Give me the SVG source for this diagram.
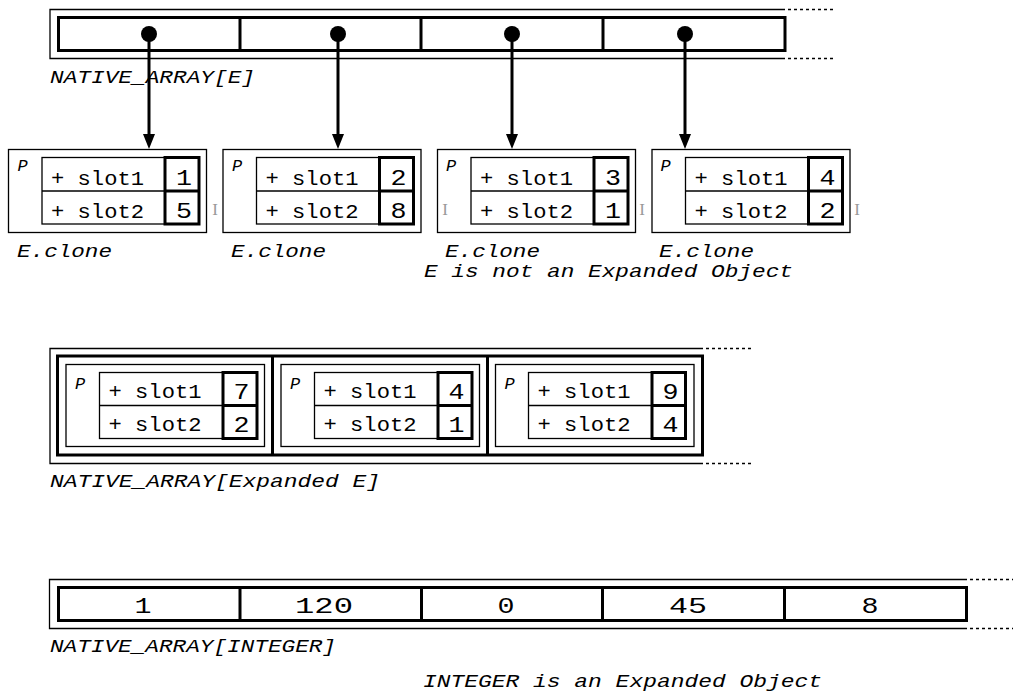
<svg xmlns="http://www.w3.org/2000/svg" width="1013" height="693" viewBox="0 0 1013 693">
<style>
.thin{fill:none;stroke:#000;stroke-width:1.3}
.thick{fill:none;stroke:#000;stroke-width:3}
.dot{fill:none;stroke:#000;stroke-width:1.3;stroke-dasharray:3 3}
.lbl{font-family:"Liberation Mono",monospace;font-style:italic;font-size:19px;fill:#000}
.slot{font-family:"Liberation Mono",monospace;font-size:20px;fill:#000}
.val{font-family:"Liberation Mono",monospace;font-size:22px;fill:#000;text-anchor:middle}
.p{font-family:"Liberation Mono",monospace;font-style:italic;font-size:17px;fill:#000}
.mark{font-family:"Liberation Serif",serif;font-size:17px;fill:#999;text-anchor:middle}
.conn{stroke:#000;stroke-width:3;fill:none}
</style>
<defs>
<marker id="arrow" viewBox="0 0 15 12" refX="0" refY="6" markerWidth="15" markerHeight="12" markerUnits="userSpaceOnUse" orient="auto">
<path d="M0,0 L15,6 L0,12 z" fill="#000"/>
</marker>
<marker id="ball" viewBox="-8 -8 16 16" refX="0" refY="0" markerWidth="16" markerHeight="16" markerUnits="userSpaceOnUse">
<circle r="8" fill="#000"/>
</marker>
</defs>
<rect width="1013" height="693" fill="#fff"/>

<!-- Top array NATIVE_ARRAY[E] -->
<g id="array-e">
<path class="thin" d="M785,9.5 H50 V58.5 H785"/>
<path class="dot" d="M788,9.5 H836 M788,58.5 H836"/>
<rect class="thick" x="58.5" y="17.5" width="726.5" height="33"/>
<path class="thick" d="M240,17.5 V50.5 M421,17.5 V50.5 M603,17.5 V50.5"/>
<text class="lbl" x="50" y="83" textLength="205" lengthAdjust="spacingAndGlyphs">NATIVE_ARRAY[E]</text>
</g>

<!-- Clone boxes -->
<g id="clone-1">
<rect class="thin" x="8.5" y="149.5" width="198" height="83"/>
<text class="p" x="17.5" y="171">P</text>
<rect class="thin" x="42" y="157.5" width="157" height="66.5"/>
<path class="thin" d="M42,191 H199"/>
<rect class="thick" x="165" y="157.5" width="34" height="66.5"/>
<path class="thick" d="M165,191 H199"/>
<text class="slot" x="51" y="184.5" textLength="93" lengthAdjust="spacingAndGlyphs">+ slot1</text>
<text class="slot" x="51" y="217.5" textLength="93" lengthAdjust="spacingAndGlyphs">+ slot2</text>
<text class="val" x="184" y="185" textLength="16" lengthAdjust="spacingAndGlyphs">1</text>
<text class="val" x="184" y="218" textLength="16" lengthAdjust="spacingAndGlyphs">5</text>
<text class="lbl" x="17" y="257" textLength="95" lengthAdjust="spacingAndGlyphs">E.clone</text>
</g>

<g id="clone-2">
<rect class="thin" x="223" y="149.5" width="198" height="83"/>
<text class="p" x="232" y="171">P</text>
<rect class="thin" x="256.5" y="157.5" width="157" height="66.5"/>
<path class="thin" d="M256.5,191 H413.5"/>
<rect class="thick" x="379.5" y="157.5" width="34" height="66.5"/>
<path class="thick" d="M379.5,191 H413.5"/>
<text class="slot" x="265.5" y="184.5" textLength="93" lengthAdjust="spacingAndGlyphs">+ slot1</text>
<text class="slot" x="265.5" y="217.5" textLength="93" lengthAdjust="spacingAndGlyphs">+ slot2</text>
<text class="val" x="398.5" y="185" textLength="16" lengthAdjust="spacingAndGlyphs">2</text>
<text class="val" x="398.5" y="218" textLength="16" lengthAdjust="spacingAndGlyphs">8</text>
<text class="lbl" x="231" y="257" textLength="95" lengthAdjust="spacingAndGlyphs">E.clone</text>
</g>

<g id="clone-3">
<rect class="thin" x="437.5" y="149.5" width="198" height="83"/>
<text class="p" x="446" y="171">P</text>
<rect class="thin" x="471" y="157.5" width="157" height="66.5"/>
<path class="thin" d="M471,191 H628"/>
<rect class="thick" x="594" y="157.5" width="34" height="66.5"/>
<path class="thick" d="M594,191 H628"/>
<text class="slot" x="480" y="184.5" textLength="93" lengthAdjust="spacingAndGlyphs">+ slot1</text>
<text class="slot" x="480" y="217.5" textLength="93" lengthAdjust="spacingAndGlyphs">+ slot2</text>
<text class="val" x="613" y="185" textLength="16" lengthAdjust="spacingAndGlyphs">3</text>
<text class="val" x="613" y="218" textLength="16" lengthAdjust="spacingAndGlyphs">1</text>
<text class="lbl" x="445" y="257" textLength="95" lengthAdjust="spacingAndGlyphs">E.clone</text>
</g>

<g id="clone-4">
<rect class="thin" x="652" y="149.5" width="198" height="83"/>
<text class="p" x="660.5" y="171">P</text>
<rect class="thin" x="685.5" y="157.5" width="157" height="66.5"/>
<path class="thin" d="M685.5,191 H842.5"/>
<rect class="thick" x="808.5" y="157.5" width="34" height="66.5"/>
<path class="thick" d="M808.5,191 H842.5"/>
<text class="slot" x="694.5" y="184.5" textLength="93" lengthAdjust="spacingAndGlyphs">+ slot1</text>
<text class="slot" x="694.5" y="217.5" textLength="93" lengthAdjust="spacingAndGlyphs">+ slot2</text>
<text class="val" x="827.5" y="185" textLength="16" lengthAdjust="spacingAndGlyphs">4</text>
<text class="val" x="827.5" y="218" textLength="16" lengthAdjust="spacingAndGlyphs">2</text>
<text class="lbl" x="659" y="257" textLength="95" lengthAdjust="spacingAndGlyphs">E.clone</text>
</g>

<g id="marks">
<text class="mark" x="215" y="215">I</text>
<text class="mark" x="445" y="215">I</text>
<text class="mark" x="642" y="215">I</text>
<text class="mark" x="857" y="215">I</text>
</g>

<text id="note-1" class="lbl" x="424" y="277" textLength="369" lengthAdjust="spacingAndGlyphs">E is not an Expanded Object</text>

<!-- Connectors -->
<g id="connectors">
<line class="conn" x1="149" y1="34" x2="149" y2="134" marker-start="url(#ball)" marker-end="url(#arrow)"/>
<line class="conn" x1="338" y1="34" x2="338" y2="134" marker-start="url(#ball)" marker-end="url(#arrow)"/>
<line class="conn" x1="512" y1="34" x2="512" y2="134" marker-start="url(#ball)" marker-end="url(#arrow)"/>
<line class="conn" x1="685" y1="34" x2="685" y2="134" marker-start="url(#ball)" marker-end="url(#arrow)"/>
</g>

<!-- Expanded array -->
<g id="array-expanded">
<path class="thin" d="M703,348.5 H50 V463.5 H703"/>
<path class="dot" d="M706,348.5 H752 M706,463.5 H752"/>
<rect class="thick" x="57.5" y="356" width="645" height="99"/>
<path class="thick" d="M272.5,356 V455 M487.5,356 V455"/>
<text class="lbl" x="50" y="487" textLength="330" lengthAdjust="spacingAndGlyphs">NATIVE_ARRAY[Expanded E]</text>
</g>

<g id="exp-cell-1">
<rect class="thin" x="66" y="364.5" width="198.5" height="82"/>
<text class="p" x="75" y="389">P</text>
<rect class="thin" x="99.5" y="372.5" width="157.5" height="66"/>
<path class="thin" d="M99.5,405.5 H257"/>
<rect class="thick" x="223" y="372.5" width="34" height="66"/>
<path class="thick" d="M223,405.5 H257"/>
<text class="slot" x="108.5" y="398" textLength="93" lengthAdjust="spacingAndGlyphs">+ slot1</text>
<text class="slot" x="108.5" y="431" textLength="93" lengthAdjust="spacingAndGlyphs">+ slot2</text>
<text class="val" x="241.5" y="398.5" textLength="16" lengthAdjust="spacingAndGlyphs">7</text>
<text class="val" x="241.5" y="431.5" textLength="16" lengthAdjust="spacingAndGlyphs">2</text>
</g>

<g id="exp-cell-2">
<rect class="thin" x="281" y="364.5" width="198.5" height="82"/>
<text class="p" x="290" y="389">P</text>
<rect class="thin" x="314.5" y="372.5" width="157.5" height="66"/>
<path class="thin" d="M314.5,405.5 H472"/>
<rect class="thick" x="438" y="372.5" width="34" height="66"/>
<path class="thick" d="M438,405.5 H472"/>
<text class="slot" x="323.5" y="398" textLength="93" lengthAdjust="spacingAndGlyphs">+ slot1</text>
<text class="slot" x="323.5" y="431" textLength="93" lengthAdjust="spacingAndGlyphs">+ slot2</text>
<text class="val" x="456.5" y="398.5" textLength="16" lengthAdjust="spacingAndGlyphs">4</text>
<text class="val" x="456.5" y="431.5" textLength="16" lengthAdjust="spacingAndGlyphs">1</text>
</g>

<g id="exp-cell-3">
<rect class="thin" x="495.5" y="364.5" width="198.5" height="82"/>
<text class="p" x="504.5" y="389">P</text>
<rect class="thin" x="528.5" y="372.5" width="157" height="66"/>
<path class="thin" d="M528.5,405.5 H685.5"/>
<rect class="thick" x="652" y="372.5" width="33.5" height="66"/>
<path class="thick" d="M652,405.5 H685.5"/>
<text class="slot" x="537.5" y="398" textLength="93" lengthAdjust="spacingAndGlyphs">+ slot1</text>
<text class="slot" x="537.5" y="431" textLength="93" lengthAdjust="spacingAndGlyphs">+ slot2</text>
<text class="val" x="670.5" y="398.5" textLength="16" lengthAdjust="spacingAndGlyphs">9</text>
<text class="val" x="670.5" y="431.5" textLength="16" lengthAdjust="spacingAndGlyphs">4</text>
</g>

<!-- Integer array -->
<g id="array-integer">
<path class="thin" d="M967,579.5 H49.5 V628.5 H967"/>
<path class="dot" d="M970,579.5 H1013 M970,628.5 H1013"/>
<rect class="thick" x="58.5" y="587.5" width="908" height="33"/>
<path class="thick" d="M240,587.5 V620.5 M421.5,587.5 V620.5 M602.5,587.5 V620.5 M784.5,587.5 V620.5"/>
<text class="val" x="143" y="612.5" textLength="17" lengthAdjust="spacingAndGlyphs">1</text>
<text class="val" x="324" y="612.5" textLength="58" lengthAdjust="spacingAndGlyphs">120</text>
<text class="val" x="506" y="612.5" textLength="17" lengthAdjust="spacingAndGlyphs">0</text>
<text class="val" x="688" y="612.5" textLength="38" lengthAdjust="spacingAndGlyphs">45</text>
<text class="val" x="870" y="612.5" textLength="17" lengthAdjust="spacingAndGlyphs">8</text>
<text class="lbl" x="50" y="652" textLength="286" lengthAdjust="spacingAndGlyphs">NATIVE_ARRAY[INTEGER]</text>
</g>

<text id="note-2" class="lbl" x="423" y="687" textLength="399" lengthAdjust="spacingAndGlyphs">INTEGER is an Expanded Object</text>
</svg>
